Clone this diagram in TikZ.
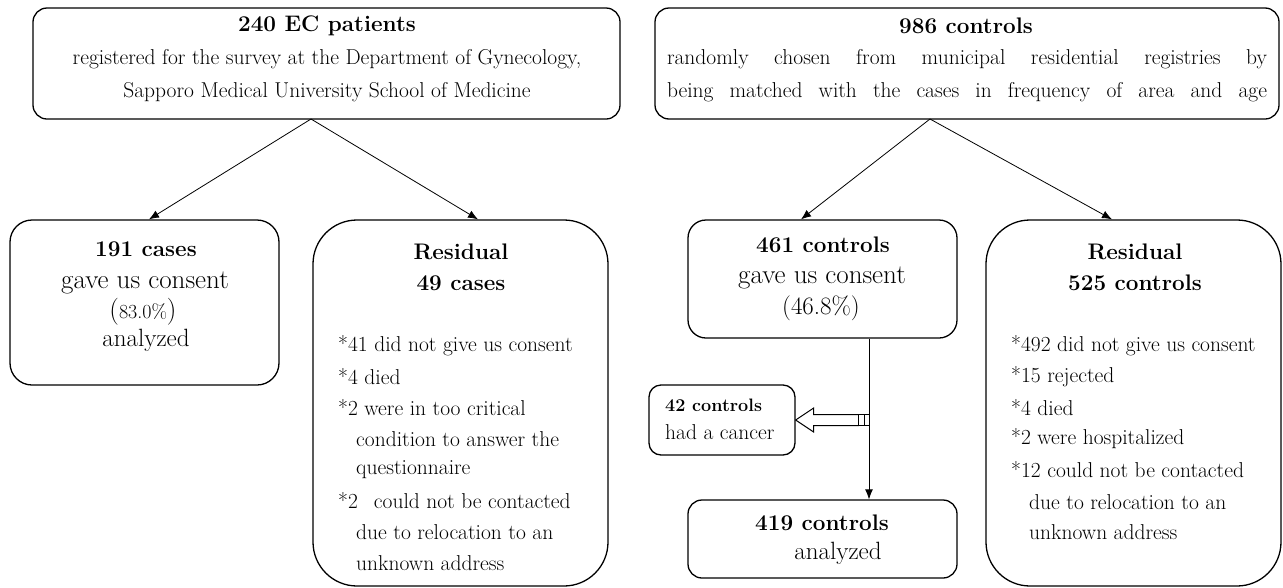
\documentclass[tikz,border=0pt]{standalone}
\usetikzlibrary{arrows.meta}
\newcommand\ftitle{\fontsize{22.5}{26}\selectfont\bfseries}
\newcommand\fbody{\fontsize{21.5}{25}\selectfont}
\newcommand\fbig{\fontsize{27}{30}\selectfont}
\newcommand\fmid{\fontsize{25}{28}\selectfont}
\newcommand\fitem{\fontsize{21.5}{25}\selectfont}
\newcommand\fsmb{\fontsize{18}{21}\selectfont\bfseries}
\newcommand\fsm{\fontsize{21.5}{25}\selectfont}
\begin{document}
\begin{tikzpicture}[x=1pt,y=-1pt,
  box/.style={draw, line width=1.3pt, inner sep=0pt},
  txt/.style={inner sep=0pt},
  itm/.style={inner sep=0pt, anchor=west, font=\fitem},
  arr/.style={-{Latex[length=10pt,width=8pt]}, line width=0.8pt},
  hollow/.style={draw, line width=1pt, fill=white, line join=miter}]
\useasboundingbox (0,0) rectangle (1283,587);
% boxes
\node[box, rounded corners=14pt, minimum width=587pt, minimum height=111pt] (topL) at (326.5,63.5) {};
\node[box, rounded corners=14pt, minimum width=624pt, minimum height=111pt] (topR) at (967,63.5) {};
\node[box, rounded corners=22pt, minimum width=269pt, minimum height=165pt] (c191) at (144.5,302.5) {};
\node[box, rounded corners=44pt, minimum width=295pt, minimum height=366pt] (res49) at (460.5,403) {};
\node[box, rounded corners=18pt, minimum width=269pt, minimum height=118pt] (c461) at (822.5,279) {};
\node[box, rounded corners=12pt, minimum width=146pt, minimum height=70pt] (c42) at (722,420) {};
\node[box, rounded corners=14pt, minimum width=269pt, minimum height=78pt] (c419) at (822.5,539) {};
\node[box, rounded corners=44pt, minimum width=295pt, minimum height=366pt] (res525) at (1133.5,403) {};
% top left text
\node[txt, font=\ftitle] (tl1) at (327,26) {240 EC patients};
\node[txt, font=\fbody] (tl2) at (327,59) {registered for the survey at the Department of Gynecology,};
\node[txt, font=\fbody] (tl3) at (327,92) {Sapporo Medical University School of Medicine};
% top right text
\node[txt, font=\ftitle] (tr1) at (966,26) {986 controls};
\node[txt, font=\fbody] (tr2) at (967,59) {\makebox[600pt][s]{randomly chosen from municipal residential registries by}};
\node[txt, font=\fbody] (tr3) at (967,92) {\makebox[600pt][s]{being matched with the cases in frequency of area and age}};
% 191 box
\node[txt, font=\ftitle] (a1) at (146,249) {191 cases};
\node[txt, font=\fbig] (a2) at (145,283) {gave us consent};
\node[txt, font=\fbig] (a3) at (143,312) {({\fontsize{20}{22}\selectfont 83.0\%})};
\node[txt, font=\fmid] (a4) at (146,340) {analyzed};
% residual 49
\node[txt, font=\ftitle] (b1) at (461,252) {Residual};
\node[txt, font=\ftitle] (b2) at (461,283) {49 cases};
\node[itm] (b3) at (338,346) {*41 did not give us consent};
\node[itm] (b4) at (338,377) {*4 died};
\node[itm] (b5) at (338,408) {*2 were in too critical};
\node[itm] (b6) at (356,439) {condition to answer the};
\node[itm] (b7) at (356,470) {questionnaire};
\node[itm] (b8) at (338,501) {*2\hspace{16pt}could not be contacted};
\node[itm] (b9) at (356,532) {due to relocation to an};
\node[itm] (b10) at (356,563) {unknown address};
% 461 box
\node[txt, font=\ftitle] (c1) at (823,245) {461 controls};
\node[txt, font=\fbig] (c2) at (822,278) {gave us consent};
\node[txt, font=\fmid] (c3) at (821,308) {(46.8\%)};
% 42 box
\node[txt, font=\fsmb, anchor=west] (d1) at (665,405) {42 controls};
\node[txt, font=\fsm, anchor=west] (d2) at (665,432) {had a cancer};
% 419 box
\node[txt, font=\ftitle] (e1) at (822,523) {419 controls};
\node[txt, font=\fmid] (e2) at (838,553) {analyzed};
% residual 525
\node[txt, font=\ftitle] (f1) at (1135,252) {Residual};
\node[txt, font=\ftitle] (f2) at (1135,283) {525 controls};
\node[itm] (f3) at (1011,346) {*492 did not give us consent};
\node[itm] (f4) at (1011,377) {*15 rejected};
\node[itm] (f5) at (1011,408) {*4 died};
\node[itm] (f6) at (1011,439) {*2 were hospitalized};
\node[itm] (f7) at (1011,470) {*12 could not be contacted};
\node[itm] (f8) at (1029,502) {due to relocation to an};
\node[itm] (f9) at (1029,532) {unknown address};
% connectors
\coordinate (aL) at (311,119);
\coordinate (aR) at (930,119);
\coordinate (vx) at (869,0);
\draw[arr] (aL) -- (c191.north -| 149,0);
\draw[arr] (aL) -- (res49.north -| 478,0);
\draw[arr] (aR) -- (c461.north -| 801,0);
\draw[arr] (aR) -- (res525.north -| 1112,0);
\draw[arr] (c461.south -| vx) -- (c419.north -| vx);
% hollow arrow to 42 controls
\draw[hollow] (c42.east) -- ++(18,-12) -- ++(0,6.5) -- ++(45,0) -- ++(0,11) -- ++(-45,0) -- ++(0,6.5) -- cycle;
\draw[hollow] (858,414.5) rectangle (864,425.5);
\draw[hollow] (864,414.5) rectangle (869,425.5);
\end{tikzpicture}
\end{document}
